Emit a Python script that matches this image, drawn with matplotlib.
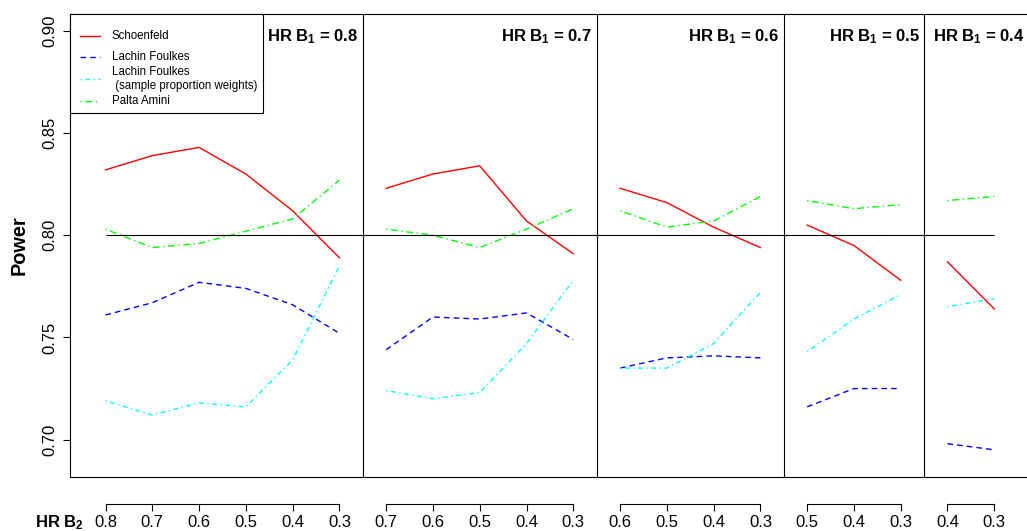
import numpy as np
import matplotlib
matplotlib.use("Agg")
import matplotlib.pyplot as plt
import matplotlib.transforms as mtransforms
from matplotlib.patches import Rectangle
from matplotlib.lines import Line2D

plt.rcParams['font.family'] = ['Liberation Sans', 'DejaVu Sans']
plt.rcParams['mathtext.fontset'] = 'custom'
plt.rcParams['mathtext.rm'] = 'Liberation Sans:bold'
plt.rcParams['mathtext.it'] = 'Liberation Sans:bold'
plt.rcParams['mathtext.bf'] = 'Liberation Sans:bold'
plt.rcParams['mathtext.default'] = 'rm'

# HR of biomarker 1 (panels) and HR of biomarker 2 (x within panel)
hr_b1 = [0.8, 0.7, 0.6, 0.5, 0.4]
hr_b2 = [[0.8, 0.7, 0.6, 0.5, 0.4, 0.3],
         [0.7, 0.6, 0.5, 0.4, 0.3],
         [0.6, 0.5, 0.4, 0.3],
         [0.5, 0.4, 0.3],
         [0.4, 0.3]]

schoenfeld = [[0.832, 0.839, 0.843, 0.830, 0.812, 0.789],
              [0.823, 0.830, 0.834, 0.807, 0.791],
              [0.823, 0.816, 0.804, 0.794],
              [0.805, 0.795, 0.778],
              [0.787, 0.764]]
lachin = [[0.761, 0.767, 0.777, 0.774, 0.766, 0.752],
          [0.744, 0.760, 0.759, 0.762, 0.749],
          [0.735, 0.740, 0.741, 0.740],
          [0.716, 0.725, 0.725],
          [0.698, 0.695]]
lachin_sp = [[0.719, 0.712, 0.718, 0.716, 0.739, 0.785],
             [0.724, 0.720, 0.723, 0.747, 0.778],
             [0.735, 0.735, 0.747, 0.772],
             [0.743, 0.759, 0.771],
             [0.765, 0.769]]
palta = [[0.803, 0.794, 0.796, 0.802, 0.808, 0.827],
         [0.803, 0.800, 0.794, 0.803, 0.813],
         [0.812, 0.804, 0.807, 0.819],
         [0.817, 0.813, 0.815],
         [0.817, 0.819]]

methods = [
    (schoenfeld, 'Schoenfeld', 'red', (None, None)),
    (lachin, 'Lachin Foulkes', 'blue', (4, 3)),
    (lachin_sp, 'Lachin Foulkes\n (sample proportion weights)', 'cyan', (1, 2.5, 3.5, 2.5)),
    (palta, 'Palta Amini', 'lime', (1, 2.5, 5, 2.5)),
]

W, H = 1027, 531
fig = plt.figure(figsize=(W / 100, H / 100), dpi=100)
ax = fig.add_axes([70 / W, 1 - 477 / H, 959.8 / W, 463 / H])


def fx(px):
    return px / W


def fy(py):
    return 1 - py / H


# x positions for each panel, one after the other
pos = []
start = 1
for g in hr_b2:
    pos.append(np.arange(start, start + len(g)))
    start += len(g)
n = start - 1

for vals, lab, col, dash in methods:
    for i, p in enumerate(pos):
        ln, = ax.plot(p, vals[i], color=col, lw=1.0)
        if dash[0] is not None:
            ln.set_dashes(dash)

ax.hlines(0.80, 1, n, color='black', lw=0.8)

seps = [p[-1] + 0.5 for p in pos[:-1]]
for s in seps:
    ax.axvline(s, color='black', lw=0.8)

ax.set_xlim(1 - 0.04 * (n - 1), n + 0.04 * (n - 1))
ax.set_ylim(0.6817, 0.9083)
for sp in ax.spines.values():
    sp.set_linewidth(0.8)

ax.set_yticks([0.70, 0.75, 0.80, 0.85, 0.90])
ax.set_yticklabels(['0.70', '0.75', '0.80', '0.85', '0.90'], rotation=90, va='center')
ax.tick_params(axis='y', length=5, width=0.8, pad=4, labelsize=12)
ax.set_xticks([])
ax.set_ylabel('Power', fontsize=14.4, fontweight='bold', labelpad=10)

# panel titles
title_x = seps + [ax.get_xlim()[1] - 0.03]
for b1, tx in zip(hr_b1, title_x):
    ax.annotate('HR B$_1$ = %.1f' % b1, xy=(tx, 0.8948), xytext=(-3, 0),
                textcoords='offset points', ha='right', va='baseline',
                fontsize=12, fontweight='bold')

# separate x axis under each panel
yax = -27 / 463
sec = ax.secondary_xaxis(yax)
sec.spines['bottom'].set_visible(False)
allpos = np.concatenate(pos)
sec.set_xticks(allpos)
sec.set_xticklabels(['%.1f' % v for g in hr_b2 for v in g])
sec.tick_params(axis='x', length=5, width=0.8, pad=3, labelsize=12)
trans = mtransforms.blended_transform_factory(ax.transData, ax.transAxes)
for p in pos:
    ax.plot([p[0], p[-1]], [yax, yax], color='black', lw=0.8,
            transform=trans, clip_on=False)
fig.text(fx(35), fy(527), 'HR B$_2$', fontsize=12, fontweight='bold',
         ha='left', va='baseline')

# legend box drawn by hand (R style)
fig.patches.append(Rectangle((fx(70), fy(113)), fx(263) - fx(70), fy(14) - fy(113),
                             transform=fig.transFigure, facecolor='white',
                             edgecolor='black', lw=0.8, zorder=5))
rows = [36, 57, 79, 101]
for (vals, lab, col, dash), ry in zip(methods, rows):
    ln = Line2D([fx(80), fx(100)], [fy(ry), fy(ry)], color=col, lw=1.0,
                transform=fig.transFigure, zorder=6)
    if dash[0] is not None:
        ln.set_dashes(dash)
    fig.lines.append(ln)
    fig.text(fx(112), fy(ry), lab, fontsize=8.3, ha='left', va='center',
             linespacing=1.2, zorder=6)

fig.savefig('out.png', dpi=100)
